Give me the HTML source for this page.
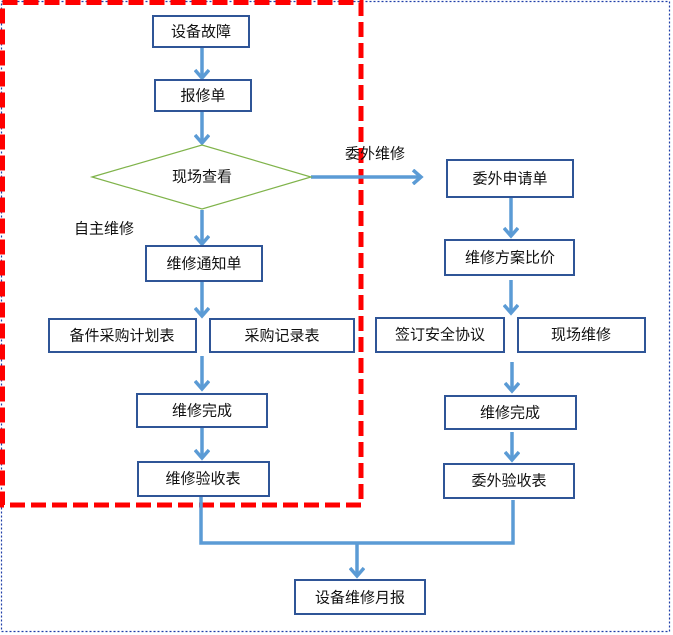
<!DOCTYPE html>
<html><head><meta charset="utf-8"><style>
html,body{margin:0;padding:0;background:#fff;width:673px;height:635px;overflow:hidden}
text{font-family:"Liberation Sans","Noto Sans CJK SC",sans-serif;font-size:15px;fill:#111;text-anchor:middle;dominant-baseline:central}
</style></head><body>
<svg width="673" height="635" viewBox="0 0 673 635" xmlns="http://www.w3.org/2000/svg">
<defs>
<marker id="ah" markerWidth="16" markerHeight="16" refX="10" refY="8" orient="auto" markerUnits="userSpaceOnUse">
<path d="M2,1 L10,8 L2,15" fill="none" stroke="#5b9bd5" stroke-width="3.5"/>
</marker>
</defs>
<rect x="1.5" y="1.5" width="668" height="630" fill="none" stroke="#1f3fa8" stroke-width="1.2" stroke-dasharray="2,2"/>
<path d="M2.5,2.5 H361 V505 H2.5 Z" fill="none" stroke="#ff0000" stroke-width="5" stroke-dasharray="15,6"/>
<g stroke="#5b9bd5" stroke-width="3.5" fill="none">
<line x1="202" y1="47" x2="202" y2="78" marker-end="url(#ah)"/>
<line x1="202" y1="111" x2="202" y2="143" marker-end="url(#ah)"/>
<line x1="202" y1="210" x2="202" y2="244" marker-end="url(#ah)"/>
<line x1="202" y1="281" x2="202" y2="316" marker-end="url(#ah)"/>
<line x1="202" y1="356" x2="202" y2="389" marker-end="url(#ah)"/>
<line x1="202" y1="428" x2="202" y2="458" marker-end="url(#ah)"/>
<line x1="311" y1="177" x2="421" y2="177" marker-end="url(#ah)"/>
<line x1="511" y1="198" x2="511" y2="236" marker-end="url(#ah)"/>
<line x1="511" y1="280" x2="511" y2="313" marker-end="url(#ah)"/>
<line x1="512" y1="362" x2="512" y2="391" marker-end="url(#ah)"/>
<line x1="512" y1="432" x2="512" y2="460" marker-end="url(#ah)"/>
<path d="M201,497 V543 H513 V500"/>
<line x1="357" y1="543" x2="357" y2="576" marker-end="url(#ah)"/>
</g>
<polygon points="92,177 202,145 311,177 202,209" fill="#fff" stroke="#7fb34a" stroke-width="1.2"/>
<g fill="#fff" stroke="#2f5597" stroke-width="2">
<rect x="153" y="16" width="96" height="31"/>
<rect x="155" y="80" width="96" height="31"/>
<rect x="146" y="246" width="116" height="35"/>
<rect x="49" y="319" width="147" height="33"/>
<rect x="210" y="319" width="144" height="33"/>
<rect x="137" y="394" width="130" height="33"/>
<rect x="138" y="462" width="131" height="34"/>
<rect x="447" y="160" width="126" height="37"/>
<rect x="445" y="240" width="129" height="35"/>
<rect x="376" y="318" width="128" height="34"/>
<rect x="518" y="318" width="127" height="34"/>
<rect x="445" y="396" width="131" height="33"/>
<rect x="444" y="464" width="130" height="34"/>
<rect x="295" y="580" width="130" height="34"/>
</g>
<text x="201" y="32">设备故障</text>
<text x="203" y="96">报修单</text>
<text x="202" y="177">现场查看</text>
<text x="204" y="264">维修通知单</text>
<text x="122" y="336">备件采购计划表</text>
<text x="282" y="336">采购记录表</text>
<text x="202" y="411">维修完成</text>
<text x="203" y="479">维修验收表</text>
<text x="510" y="179">委外申请单</text>
<text x="510" y="258">维修方案比价</text>
<text x="440" y="335">签订安全协议</text>
<text x="581" y="335">现场维修</text>
<text x="510" y="413">维修完成</text>
<text x="509" y="481">委外验收表</text>
<text x="360" y="598">设备维修月报</text>
<text x="104" y="229">自主维修</text>
<text x="375" y="154">委外维修</text>
</svg>
</body></html>
